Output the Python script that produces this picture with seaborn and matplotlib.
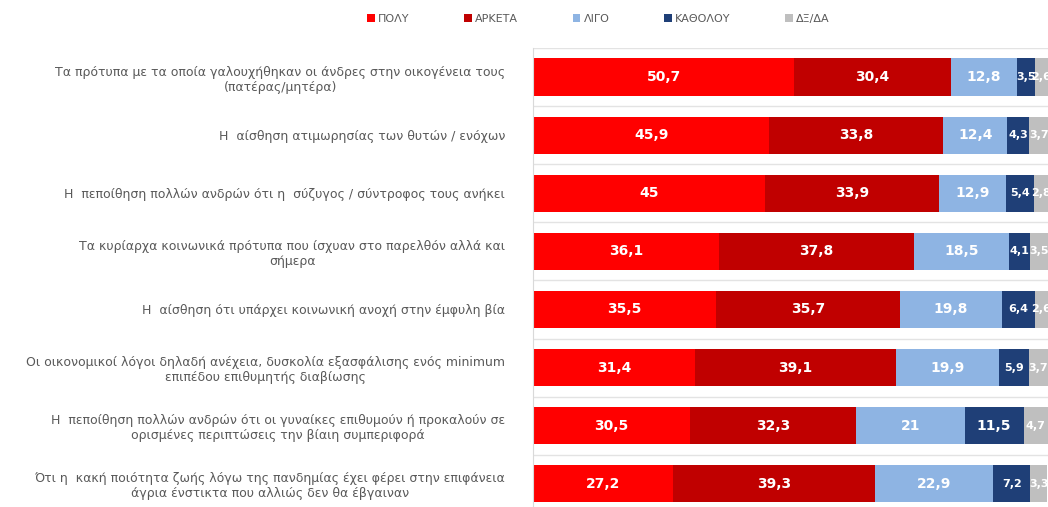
import matplotlib.pyplot as plt
import pandas as pd
import seaborn as sns

# Data
categories = [
    'Τα πρότυπα με τα οποία γαλουχήθηκαν οι άνδρες στην οικογένεια τους\n(πατέρας/μητέρα)',
    'Η  αίσθηση ατιμωρησίας των θυτών / ενόχων',
    'Η  πεποίθηση πολλών ανδρών ότι η  σύζυγος / σύντροφος τους ανήκει',
    'Τα κυρίαρχα κοινωνικά πρότυπα που ίσχυαν στο παρελθόν αλλά και\nσήμερα',
    'Η  αίσθηση ότι υπάρχει κοινωνική ανοχή στην έμφυλη βία',
    'Οι οικονομικοί λόγοι δηλαδή ανέχεια, δυσκολία εξασφάλισης ενός minimum\nεπιπέδου επιθυμητής διαβίωσης',
    'Η  πεποίθηση πολλών ανδρών ότι οι γυναίκες επιθυμούν ή προκαλούν σε\nορισμένες περιπτώσεις την βίαιη συμπεριφορά',
    'Ότι η  κακή ποιότητα ζωής λόγω της πανδημίας έχει φέρει στην επιφάνεια\nάγρια ένστικτα που αλλιώς δεν θα έβγαιναν',
]
series = ['ΠΟΛΥ', 'ΑΡΚΕΤΑ', 'ΛΙΓΟ', 'ΚΑΘΟΛΟΥ', 'ΔΞ/ΔΑ']
poly = [50.7, 45.9, 45, 36.1, 35.5, 31.4, 30.5, 27.2]
arketa = [30.4, 33.8, 33.9, 37.8, 35.7, 39.1, 32.3, 39.3]
ligo = [12.8, 12.4, 12.9, 18.5, 19.8, 19.9, 21, 22.9]
katholou = [3.5, 4.3, 5.4, 4.1, 6.4, 5.9, 11.5, 7.2]
dkna = [2.6, 3.7, 2.8, 3.5, 2.6, 3.7, 4.7, 3.3]
colors = ['#FF0000', '#C00000', '#8EB4E3', '#1F3F77', '#BFBFBF']

df = pd.DataFrame({'cat': categories, 'ΠΟΛΥ': poly, 'ΑΡΚΕΤΑ': arketa,
                   'ΛΙΓΟ': ligo, 'ΚΑΘΟΛΟΥ': katholou, 'ΔΞ/ΔΑ': dkna})
cum = df[series].cumsum(axis=1)

sns.set_style('white')
plt.rcParams['font.family'] = ['DejaVu Sans']

fig = plt.figure(figsize=(10.48, 5.07), dpi=100)
ax = fig.add_axes([533 / 1048, 0, 1 - 533 / 1048, 1 - 48 / 507])

# stacked bars: draw cumulative totals from the back to the front
for name, col in reversed(list(zip(series, colors))):
    sns.barplot(x=cum[name], y=df['cat'], ax=ax, color=col, orient='h',
                width=0.64, saturation=1, label=name, edgecolor='none')
ax.get_legend().remove()

# value labels
for i in range(len(df)):
    for j, name in enumerate(series):
        v = df[name].iloc[i]
        x = cum[name].iloc[i] - v / 2
        txt = f'{v:g}'.replace('.', ',')
        ax.text(x, i, txt, ha='center', va='center', color='white',
                fontsize=10 if v >= 8 else 8, fontweight='bold', clip_on=True)

# separators between rows
for k in range(len(df)):
    ax.axhline(k - 0.5, color='#E3E3E3', lw=1, zorder=0)

ax.set_xlim(0, 100)
ax.set_ylim(7.4, -0.5)
ax.set(xlabel='', ylabel='')
ax.set_xticks([])
for s in ['top', 'right', 'bottom']:
    ax.spines[s].set_visible(False)
ax.spines['left'].set_color('#D9D9D9')
ax.tick_params(axis='y', length=0, pad=20, labelcolor='#595959')
for lbl in ax.get_yticklabels():
    lbl.set_fontsize(9)
    lbl.set_multialignment('center')

# legend
handles, labels = ax.get_legend_handles_labels()
order = [labels.index(s) for s in series]
leg = fig.legend([handles[k] for k in order], [labels[k] for k in order],
                 loc='center', bbox_to_anchor=(0.571, 0.962), ncol=5,
                 frameon=False, fontsize=8, handlelength=0.7, handleheight=0.7,
                 handletextpad=0.3, columnspacing=4.9)
for t in leg.get_texts():
    t.set_color('#595959')

fig.savefig('out.png', dpi=100)
